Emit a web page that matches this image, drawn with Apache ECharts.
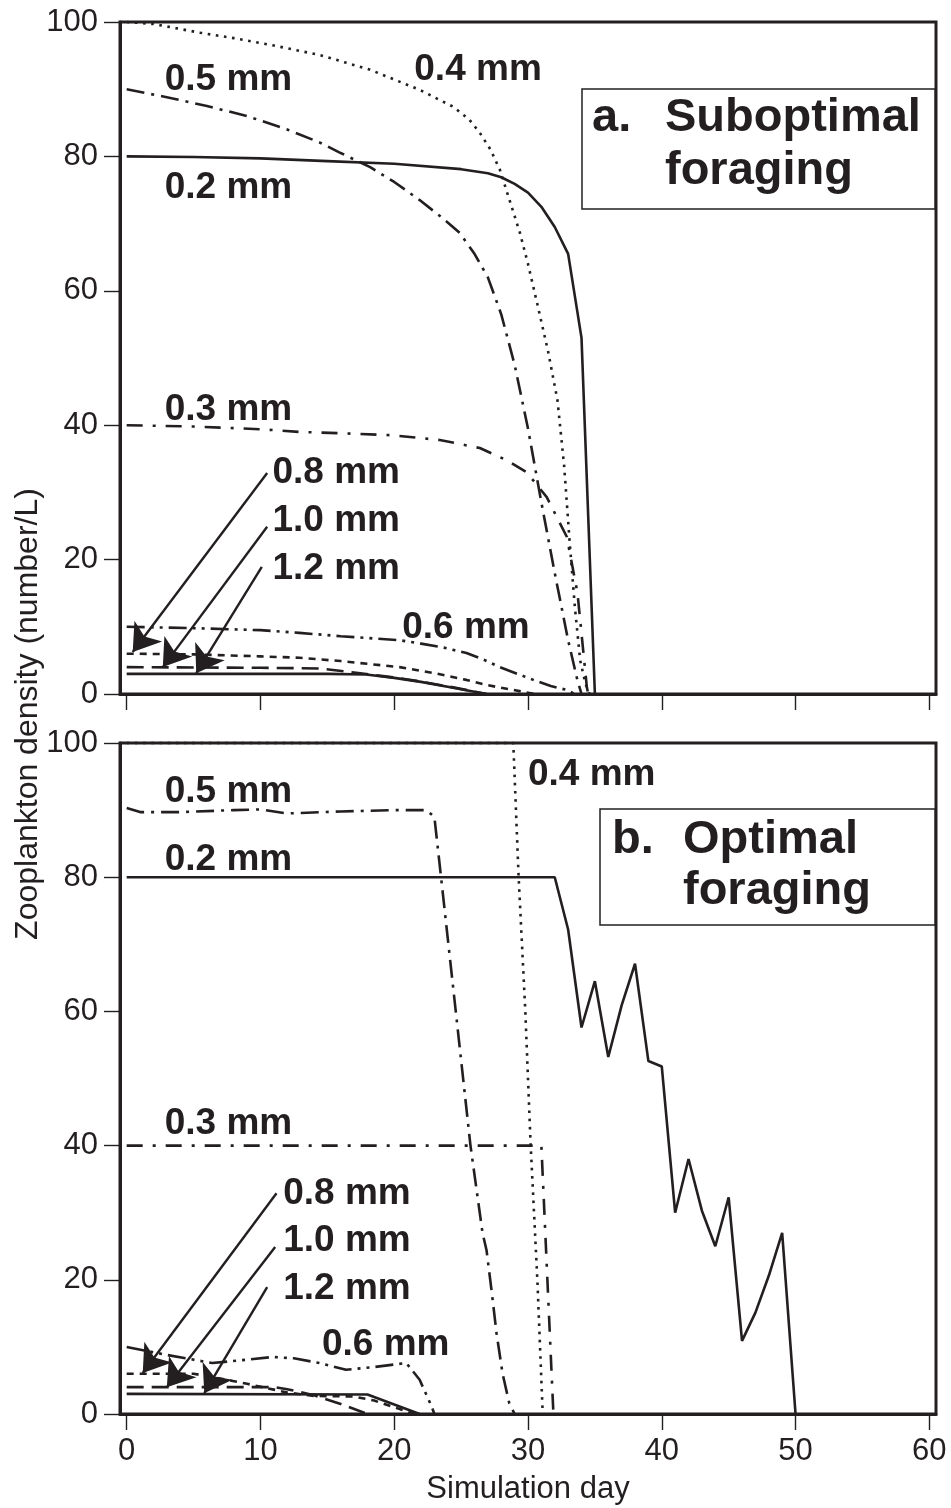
<!DOCTYPE html>
<html>
<head>
<meta charset="utf-8">
<title>Zooplankton density</title>
<script src="https://cdn.jsdelivr.net/npm/echarts@6/dist/echarts.min.js"></script>
<style>
html,body{margin:0;padding:0;background:#fff;}
#chart{width:951px;height:1508px;}
</style>
</head>
<body>
<div id="chart"></div>
<script>
// axis ticks
var xTicks = [0, 10, 20, 30, 40, 50, 60];
var yTicks = [0, 20, 40, 60, 80, 100];

// panel a : suboptimal foraging  [day, number/L]
var a02 = [[0,80],[5,79.9],[10,79.7],[15,79.3],[20,78.9],[25,78.1],[27,77.5],[28,76.9],[29,75.9],[30,74.6],[31,72.5],[32,69.5],[33,65.5],[34,53],[35,0]];
var a04 = [[0,100],[2,99.7],[5.5,98.4],[8,97.6],[11,96.5],[14.4,95.1],[18.2,92.9],[21.9,89.9],[24.4,87.4],[25.6,85.5],[26.4,83.5],[27.2,81],[27.9,78],[28.7,73],[29.4,68.6],[30,64],[30.7,58],[31.5,51],[32.2,43.75],[32.7,34],[33.1,23],[33.5,13],[33.9,5],[34.3,1.5],[34.6,0]];
var a05 = [[0,90],[3,88.8],[6,87.5],[9,86],[12,84],[14.4,82.1],[16,80.5],[18.2,78.4],[20,76.2],[21.9,73.5],[23.5,71],[24.9,68.6],[26,65.5],[27,62],[28,56.5],[29,49],[30,39.5],[31,28.5],[32,18],[33,8],[33.7,2],[34,0]];
var a03 = [[0,40],[5,39.8],[10,39.4],[12.9,39],[16,38.8],[19.9,38.5],[23.4,37.8],[26.4,36.6],[28.4,34.8],[29.9,33],[31.4,29.3],[32.9,23.4],[33.7,15],[34.4,1],[34.5,0]];
var a06 = [[0,10],[5,9.8],[10,9.5],[12.9,9.1],[16,8.6],[20.4,8],[22,7.5],[23.7,6.9],[25.4,6.1],[26.7,5.1],[27.9,4],[29.2,3],[30.4,2.1],[31.7,1.2],[32.9,0.6],[33.5,0]];
var a08 = [[0,6],[5,5.9],[10,5.6],[12.9,5.4],[16,4.9],[20.4,4],[23,3.1],[25.4,2.1],[27,1.3],[28.9,0.6],[30.5,0]];
var a10 = [[0,4],[10,3.9],[14.4,3.8],[17,3.2],[19,2.7],[20,2.45],[22,1.85],[24.5,0.95],[26.9,0]];
var a12 = [[0,3],[10,3],[15,3],[17.9,2.9],[20,2.4],[22,1.8],[24.5,0.9],[26.9,0]];

// panel b : optimal foraging
var b02 = [[0,80],[32,80],[33,72.2],[34,57.6],[35,64.5],[36,53.2],[37,60.9],[38,67.1],[39,52.6],[40,51.8],[41,30],[42,38],[43,30.3],[44,25],[45,32.3],[46,10.9],[47,15.1],[48,20.6],[49,27],[50,0]];
var b04 = [[0,100],[28.9,100],[29.3,80],[29.8,60],[30.2,40],[30.7,20],[31.1,0]];
var b05 = [[0,90.3],[1,89.7],[4,89.7],[8,90],[10,90.1],[12,89.5],[16,89.8],[20,90],[22.4,90],[23,89],[23.5,80],[24.6,60],[25.7,40],[26.6,27],[26.9,24.4],[27.3,18],[27.65,12],[28.1,6],[28.6,1.6],[29,0]];
var b03 = [[0,40],[31,40],[31.9,0]];
var b06 = [[0,10],[3,8.8],[6.4,7.6],[8.5,8],[10.9,8.5],[12.5,8.3],[14.4,7.6],[16.4,6.6],[18.5,7],[20.9,7.6],[21.9,5.1],[22.8,1.1],[23,0]];
var b08 = [[0,6],[5,6],[6.4,5.5],[9,4.5],[12,3.2],[14,2.7],[17,2.6],[18.5,2],[20,1],[21.5,0]];
var b10 = [[0,4],[11,4],[12,3.7],[14,2.8],[16,1.5],[18,0]];
var b12 = [[0,3],[18,2.9],[21.9,0]];

// size labels and where they sit
var sizeNames = ['0.5 mm','0.4 mm','0.2 mm','0.3 mm','0.8 mm','1.0 mm','1.2 mm','0.6 mm'];
var labelPosA = [[2.84,91.4],[21.5,92.9],[2.84,75.3],[2.84,42.3],[10.9,32.9],[10.9,25.7],[10.9,18.6],[20.6,9.8]];
var labelPosB = [[2.84,92.8],[30.0,95.2],[2.84,82.6],[2.84,43.2],[11.7,32.8],[11.7,25.8],[11.7,18.6],[14.6,10.3]];

// arrows 0.8 / 1.0 / 1.2 mm  (from label to the tip on the line)
var arrowsA = [[[10.5,32.9],[0.45,6.25]],[[10.5,24.9],[2.7,4.0]],[[10.1,18.9],[5.2,3.1]]];
var arrowsB = [[[11.2,32.9],[1.2,6.1]],[[11.1,24.9],[3.0,4.0]],[[10.5,18.9],[5.8,3.1]]];

var ink = '#231f20';
var fam = '"Liberation Sans", Arial, Helvetica, sans-serif';

// dash patterns per size class
var dash = {
	'0.2': 'solid',
	'0.4': [2.6, 5.6],
	'0.5': [18, 7, 3, 7],
	'0.3': [16, 10, 3, 10],
	'0.6': [18, 6, 3, 6, 3, 6],
	'0.8': [7, 6],
	'1.0': [17, 8],
	'1.2': 'solid'
};

function curve(name, data, idx){
	return {
		name: name, type: 'line', xAxisIndex: idx, yAxisIndex: idx,
		data: data, symbol: 'none', silent: true, clip: false,
		lineStyle: {color: ink, width: 2.6, type: dash[name], cap: 'butt', opacity: 1}
	};
}

function sizeLabels(pos, idx){
	var d = [];
	for (var i = 0; i < pos.length; i++) {
		d.push({name: sizeNames[i], value: pos[i]});
	}
	return {
		type: 'scatter', xAxisIndex: idx, yAxisIndex: idx, symbolSize: 0, silent: true,
		itemStyle: {opacity: 1, color: ink},
		data: d,
		label: {show: true, position: 'right', distance: 0, formatter: '{b}', opacity: 1,
			color: ink, fontSize: 37, fontWeight: 'bold', fontFamily: fam}
	};
}

function arrows(list, idx){
	var d = [];
	for (var i = 0; i < list.length; i++) d.push({coords: list[i]});
	return {
		type: 'lines', coordinateSystem: 'cartesian2d', xAxisIndex: idx, yAxisIndex: idx,
		silent: true, data: d, symbol: ['none', 'arrow'], symbolSize: [15, 26],
		itemStyle: {color: ink, opacity: 1},
		lineStyle: {color: ink, width: 2.4, opacity: 1, curveness: 0}
	};
}

function xAxis(idx){
	return {
		type: 'value', gridIndex: idx, min: -0.5, max: 60.5,
		splitLine: {show: false},
		axisLine: {show: true, onZero: false, lineStyle: {color: ink, width: 3}},
		axisTick: {show: true, customValues: xTicks, length: 16, lineStyle: {color: ink, width: 1.4}},
		axisLabel: {show: idx == 1, customValues: xTicks, margin: 22, color: ink, fontSize: 31, fontFamily: fam},
		name: idx == 1 ? 'Simulation day' : '',
		nameLocation: 'middle', nameGap: 60,
		nameTextStyle: {color: ink, fontSize: 31, fontFamily: fam}
	};
}

function yAxis(idx){
	return {
		type: 'value', gridIndex: idx, min: 0, max: 100, interval: 20,
		splitLine: {show: false},
		axisLine: {show: true, onZero: false, lineStyle: {color: ink, width: 3}},
		axisTick: {show: true, length: 16, lineStyle: {color: ink, width: 1.4}},
		axisLabel: {margin: 22, color: ink, fontSize: 31, fontFamily: fam}
	};
}

var series = [
	curve('0.2', a02, 0), curve('0.4', a04, 0), curve('0.5', a05, 0), curve('0.3', a03, 0),
	curve('0.6', a06, 0), curve('0.8', a08, 0), curve('1.0', a10, 0), curve('1.2', a12, 0),
	curve('0.2', b02, 1), curve('0.4', b04, 1), curve('0.5', b05, 1), curve('0.3', b03, 1),
	curve('0.6', b06, 1), curve('0.8', b08, 1), curve('1.0', b10, 1), curve('1.2', b12, 1),
	sizeLabels(labelPosA, 0), sizeLabels(labelPosB, 1),
	arrows(arrowsA, 0), arrows(arrowsB, 1)
];

function boxText(t, x, y){
	return {type: 'text', x: x, y: y, z: 20,
		style: {text: t, fill: ink, font: 'bold 47px ' + fam, align: 'left', verticalAlign: 'middle'}};
}

var graphic = [
	{type: 'rect', z: 10, shape: {x: 582, y: 89, width: 353, height: 120},
		style: {fill: '#fff', stroke: ink, lineWidth: 1.5}},
	boxText('a.', 592, 118), boxText('Suboptimal', 665, 118), boxText('foraging', 665, 171),
	{type: 'rect', z: 10, shape: {x: 600, y: 809, width: 335, height: 116},
		style: {fill: '#fff', stroke: ink, lineWidth: 1.5}},
	boxText('b.', 612, 840), boxText('Optimal', 683, 840), boxText('foraging', 683, 891),
	{type: 'text', x: 28, y: 714, rotation: Math.PI / 2, z: 20,
		style: {text: 'Zooplankton density (number/L)', fill: ink, font: '32px ' + fam,
			align: 'center', verticalAlign: 'middle'}}
];

var chart = echarts.init(document.getElementById('chart'));
chart.setOption({
	animation: false,
	backgroundColor: '#fff',
	grid: [
		{left: 120, top: 22, width: 816, height: 672, show: true, borderColor: ink, borderWidth: 3, outerBoundsMode: 'none'},
		{left: 120, top: 743, width: 816, height: 671, show: true, borderColor: ink, borderWidth: 3, outerBoundsMode: 'none'}
	],
	xAxis: [xAxis(0), xAxis(1)],
	yAxis: [yAxis(0), yAxis(1)],
	graphic: graphic,
	series: series
});
</script>
</body>
</html>
